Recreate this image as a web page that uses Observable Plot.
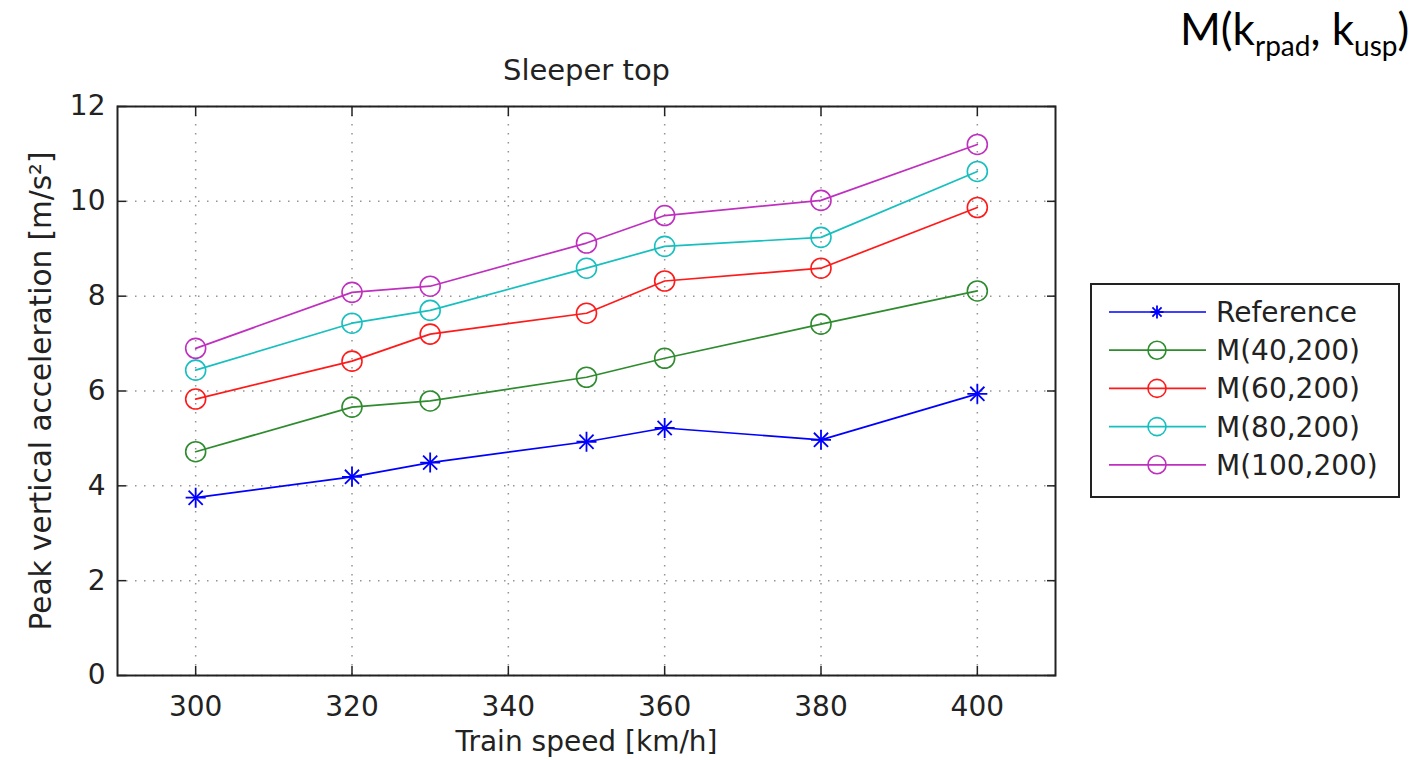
<!DOCTYPE html>
<html>
<head>
<meta charset="utf-8">
<script src="https://cdn.jsdelivr.net/npm/d3@7"></script>
<script src="https://cdn.jsdelivr.net/npm/@observablehq/plot@0.6"></script>
<style>
  html, body { margin: 0; padding: 0; background: #fff; }
  #wrap { display: flex; flex-direction: row; width: 1424px; height: 760px; }
  #chart { width: 1075px; height: 760px; }
  #side { width: 349px; height: 760px; }
</style>
</head>
<body>
<div id="wrap"><div id="chart"></div><div id="side"></div></div>
<script>
// ---- data ----
const speeds = [300, 320, 330, 350, 360, 380, 400];
const seriesNames = ["Reference", "M(40,200)", "M(60,200)", "M(80,200)", "M(100,200)"];
const reference = [3.75, 4.19, 4.49, 4.93, 5.22, 4.97, 5.94];
const m40 = [4.72, 5.66, 5.79, 6.29, 6.69, 7.41, 8.11];
const m60 = [5.83, 6.63, 7.20, 7.64, 8.32, 8.59, 9.87];
const m80 = [6.44, 7.43, 7.70, 8.59, 9.05, 9.24, 10.63];
const m100 = [6.90, 8.08, 8.21, 9.12, 9.70, 10.02, 11.20];
const seriesColors = ["#0000ff", "#2e8b2e", "#ff1a1a", "#17bfbf", "#bf30bf"];
const xTicks = [300, 320, 340, 360, 380, 400];
const yTicks = [0, 2, 4, 6, 8, 10, 12];
const titleText = "Sleeper top";
const xLabel = "Train speed [km/h]";
const yLabel = "Peak vertical acceleration [m/s²]";

const allSeries = [reference, m40, m60, m80, m100];
const rows = [];
allSeries.forEach((vals, i) => vals.forEach((v, j) => rows.push({speed: speeds[j], value: v, series: seriesNames[i]})));
const refRows = rows.filter(d => d.series === "Reference");
const circRows = rows.filter(d => d.series !== "Reference");

const font = "'DejaVu Sans', Verdana, sans-serif";
const fs = 28;

const plot = Plot.plot({
  width: 1075,
  height: 760,
  marginLeft: 117,
  marginRight: 20,
  marginTop: 106,
  marginBottom: 85,
  style: {fontFamily: font, fontSize: fs + "px", color: "#222", background: "#fff"},
  x: {domain: [290, 410], ticks: xTicks},
  y: {domain: [0, 12], ticks: yTicks},
  color: {domain: seriesNames, range: seriesColors},
  marks: [
    Plot.gridX(xTicks, {stroke: "#888", strokeOpacity: 0.9, strokeDasharray: "1.5,7.5", strokeWidth: 1.5}),
    Plot.gridY(yTicks, {stroke: "#888", strokeOpacity: 0.9, strokeDasharray: "1.5,7.5", strokeWidth: 1.5}),
    Plot.axisX(xTicks, {anchor: "bottom", tickSize: 0, tickPadding: 21, label: null, fontSize: fs, fill: "#222"}),
    Plot.axisX(xTicks, {anchor: "bottom", tickSize: -9, text: null, label: null, strokeWidth: 1.5, stroke: "#222"}),
    Plot.axisX(xTicks, {anchor: "top", tickSize: -9, text: null, label: null, strokeWidth: 1.5, stroke: "#222"}),
    Plot.axisY(yTicks, {anchor: "left", tickSize: 0, tickPadding: 12, label: null, fontSize: fs, fill: "#222"}),
    Plot.axisY(yTicks, {anchor: "left", tickSize: -9, text: null, label: null, strokeWidth: 1.5, stroke: "#222"}),
    Plot.axisY(yTicks, {anchor: "right", tickSize: -9, text: null, label: null, strokeWidth: 1.5, stroke: "#222"}),
    Plot.frame({stroke: "#222", strokeWidth: 2}),
    Plot.line(rows, {x: "speed", y: "value", z: "series", stroke: "series", strokeWidth: 1.7}),
    Plot.dot(circRows, {x: "speed", y: "value", stroke: "series", r: 10, strokeWidth: 1.6, fill: "none"}),
    Plot.dot(refRows, {x: "speed", y: "value", stroke: "series", symbol: "plus", r: 6.5, strokeWidth: 1.8}),
    Plot.dot(refRows, {x: "speed", y: "value", stroke: "series", symbol: "times", r: 6.5, strokeWidth: 1.8}),
    Plot.text([titleText], {frameAnchor: "top", lineAnchor: "middle", dy: -36, fontSize: 29, fill: "#222"}),
    Plot.text([xLabel], {frameAnchor: "bottom", lineAnchor: "middle", dy: 67, fontSize: 28, fill: "#222"}),
    Plot.text([yLabel], {frameAnchor: "left", textAnchor: "middle", lineAnchor: "middle", dx: -76, rotate: -90, fontSize: 29.5, fill: "#222"})
  ]
});
document.getElementById("chart").appendChild(plot);

// ---- side panel: annotation + legend ----
const side = d3.select("#side").append("svg").attr("width", 349).attr("height", 760);
const ann = side.append("text").attr("x", 105).attr("y", 45)
  .style("font-family", "Lato, 'Open Sans', sans-serif").style("font-size", "44px").attr("fill", "#000");
ann.append("tspan").text("M(k");
ann.append("tspan").attr("dy", 11).style("font-size", "28px").text("rpad");
ann.append("tspan").attr("dy", -11).text(", k");
ann.append("tspan").attr("dy", 11).style("font-size", "28px").text("usp");
ann.append("tspan").attr("dy", -11).text(")");

const lg = side.append("g").attr("transform", "translate(16,284)");
lg.append("rect").attr("width", 308).attr("height", 213).attr("fill", "#fff").attr("stroke", "#222").attr("stroke-width", 2);
seriesNames.forEach((name, i) => {
  const cy = 28 + i * 38.2;
  const c = seriesColors[i];
  lg.append("line").attr("x1", 18).attr("x2", 115).attr("y1", cy).attr("y2", cy).attr("stroke", c).attr("stroke-width", 1.7);
  if (i === 0) {
    const p = d3.path();
    const r = 6.5, q = r * Math.SQRT1_2;
    p.moveTo(66 - r, cy); p.lineTo(66 + r, cy);
    p.moveTo(66, cy - r); p.lineTo(66, cy + r);
    p.moveTo(66 - q, cy - q); p.lineTo(66 + q, cy + q);
    p.moveTo(66 - q, cy + q); p.lineTo(66 + q, cy - q);
    lg.append("path").attr("d", p.toString()).attr("stroke", c).attr("stroke-width", 1.8).attr("fill", "none");
  } else {
    lg.append("circle").attr("cx", 66).attr("cy", cy).attr("r", 9).attr("stroke", c).attr("stroke-width", 1.6).attr("fill", "none");
  }
  lg.append("text").attr("x", 125).attr("y", cy).attr("dy", "0.36em")
    .style("font-family", font).style("font-size", "28px").attr("fill", "#222").text(name);
});
</script>
</body>
</html>
